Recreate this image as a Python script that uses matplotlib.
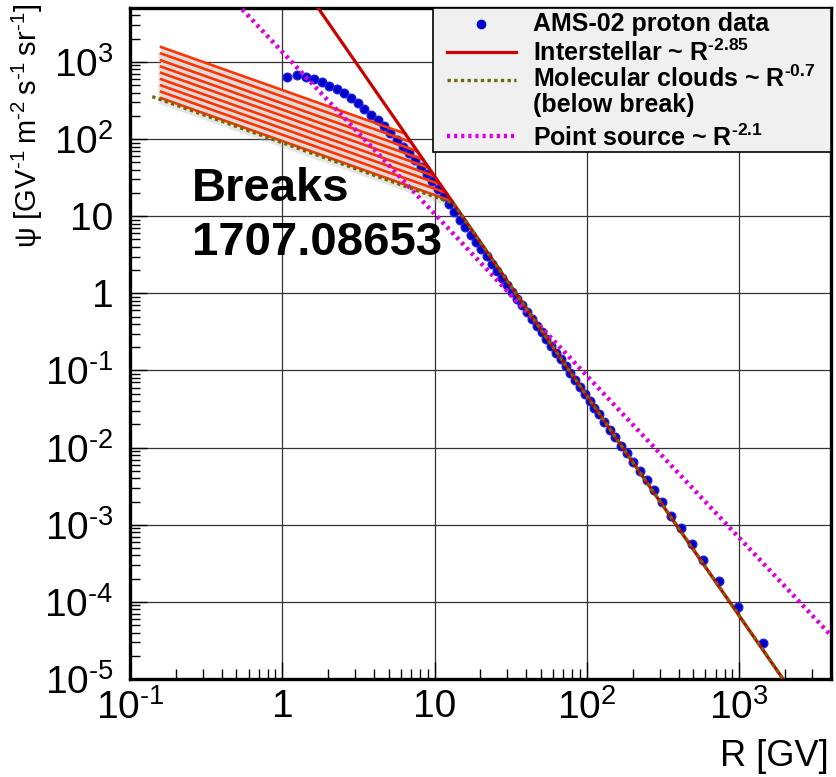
import matplotlib.pyplot as plt
import numpy as np
from matplotlib.ticker import LogLocator, NullFormatter
from matplotlib.lines import Line2D
from matplotlib.patches import Rectangle
import matplotlib.patheffects as pe

plt.rcParams['font.family'] = ['Liberation Sans', 'DejaVu Sans']
plt.rcParams['mathtext.fontset'] = 'custom'
plt.rcParams['mathtext.rm'] = 'Liberation Sans'
plt.rcParams['mathtext.bf'] = 'Liberation Sans:bold'
plt.rcParams['mathtext.default'] = 'rm'

# AMS-02 proton flux
rigidity = [1.08, 1.25, 1.42, 1.61, 1.81, 2.03, 2.27, 2.53, 2.82, 3.13, 3.46, 3.83,
            4.22, 4.65, 5.12, 5.63, 6.18, 6.77, 7.42, 8.11, 8.86, 9.67, 10.5, 11.5,
            12.5, 13.5, 14.7, 15.9, 17.3, 18.7, 20.3, 21.9, 23.7, 25.7, 27.7, 29.9,
            32.3, 34.8, 37.5, 40.4, 43.5, 46.8, 50.3, 54.1, 58.2, 62.5, 67.2, 72.3,
            77.6, 83.4, 89.7, 96.4, 104, 112, 120, 130, 141, 153, 167, 183, 201, 222,
            246, 275, 310, 355, 414, 487, 582, 732, 975, 1432]
flux = [634, 670, 646, 597, 551, 493, 443, 393, 344, 291, 246, 207,
        175, 149, 121, 97, 78, 65, 54, 43, 35, 28.3, 22.8, 18.0,
        14.5, 11.5, 9.0, 7.28, 5.78, 4.62, 3.72, 3.03, 2.40, 1.94, 1.585, 1.285,
        1.045, 0.851, 0.698, 0.573, 0.470, 0.380, 0.312, 0.2547, 0.209, 0.170, 0.139, 0.1127,
        0.0918, 0.0750, 0.0608, 0.0497, 0.0400, 0.0324, 0.0269, 0.0214, 0.0170, 0.0136, 0.01057,
        0.00851, 0.00649, 0.00498,
        0.00379, 0.00280, 0.00197, 0.00131, 0.000906, 0.000569, 0.000344, 0.000187, 8.6e-5, 2.92e-5]

# power-law models: flux at 10 GV and spectral index
is_norm10, is_index = 33.0, -2.85        # interstellar
ps_norm10, ps_index = 10.7, -2.1         # point source
mc_index, mc_break, mc_start = -0.7, 13.3, 0.14   # molecular clouds
band_breaks = [6.4, 7.0, 7.7, 8.4, 9.15, 10.0, 10.9, 11.9, 13.0]
band_start = 0.16

xticks = [0.1, 1, 10, 100, 1000]
xticklabels = ['10$^{‐1}$', '1', '10', '10$^{2}$', '10$^{3}$']
yticks = [1e-5, 1e-4, 1e-3, 1e-2, 1e-1, 1, 10, 100, 1000]
yticklabels = ['10$^{‐5}$', '10$^{‐4}$', '10$^{‐3}$', '10$^{‐2}$', '10$^{‐1}$',
               '1', '10', '10$^{2}$', '10$^{3}$']


def interstellar(r):
    return is_norm10 * (np.asarray(r) / 10.0) ** is_index


fig = plt.figure(figsize=(8.37, 7.77), dpi=100)
ax = fig.add_axes([130 / 837, 1 - 679 / 777, 701 / 837, 671 / 777])
ax.set_xscale('log')
ax.set_yscale('log')
ax.set_xlim(0.1, 4000)
ax.set_ylim(1e-5, 5e3)

# shaded band of break rigidities
top = np.geomspace(band_start, band_breaks[0], 50)
mid = np.geomspace(band_breaks[0], band_breaks[-1], 50)
bot = np.geomspace(band_start, band_breaks[-1], 50)
poly_x = np.concatenate([top, mid, bot[::-1]])
poly_y = np.concatenate([interstellar(band_breaks[0]) * (top / band_breaks[0]) ** mc_index,
                         interstellar(mid),
                         (interstellar(band_breaks[-1]) * (bot / band_breaks[-1]) ** mc_index)[::-1]])
ax.fill(poly_x, poly_y, color='#dcdcdc', lw=0, zorder=2,
        path_effects=[pe.SimplePatchShadow(offset=(-2, -4), shadow_rgbFace='#aaaaaa', alpha=0.3),
                      pe.Normal()])

ax.plot(rigidity, flux, 'o', color='#0000cc', ms=6.2, mec='#2020dd', zorder=3)

for b in band_breaks:
    r = np.geomspace(band_start, b, 50)
    ax.plot(r, interstellar(b) * (r / b) ** mc_index, color='#ff3300', lw=1.9, zorder=4)

r_all = np.geomspace(0.3, 4000, 200)
ax.plot(r_all, ps_norm10 * (r_all / 10.0) ** ps_index, color='#dd00dd', lw=3.2,
        ls=(0, (0.7, 0.9)), zorder=4)
ax.plot(r_all, interstellar(r_all), color='#cc0000', lw=2.3, zorder=5)

r_mc = np.geomspace(mc_start, 4000, 300)
mc = np.where(r_mc < mc_break,
              interstellar(mc_break) * (r_mc / mc_break) ** mc_index,
              interstellar(r_mc))
ax.plot(r_mc, mc, color='#6b6b00', lw=2.4, ls=(0, (1, 1)), zorder=6)

# axes styling
ax.set_xticks(xticks)
ax.set_xticklabels(xticklabels)
ax.set_yticks(yticks)
ax.set_yticklabels(yticklabels)
ax.xaxis.set_minor_locator(LogLocator(base=10, subs=range(2, 10), numticks=30))
ax.yaxis.set_minor_locator(LogLocator(base=10, subs=range(2, 10), numticks=30))
ax.xaxis.set_minor_formatter(NullFormatter())
ax.yaxis.set_minor_formatter(NullFormatter())
ax.tick_params(which='major', direction='in', length=12, width=1, labelsize=28)
ax.tick_params(which='minor', direction='in', length=7, width=1)
ax.tick_params(axis='x', which='major', pad=7)
ax.tick_params(axis='y', which='major', pad=12)
ax.grid(True, which='major', color='#333333', lw=0.9)
for s in ax.spines.values():
    s.set_linewidth(2.4)

fig.text(27 / 837, 1 - 4 / 777, 'ψ [GV$^{‐1}$\u2009m$^{‐2}$\u2009s$^{‐1}$\u2009sr$^{‐1}$]',
         rotation=90, ha='center', va='top', fontsize=21)
fig.text(829 / 837, 1 - 756 / 777, 'R [GV]', ha='right', va='center', fontsize=26)

fig.text(192 / 837, 1 - 167 / 777, 'Breaks\n1707.08653', ha='left', va='top',
         fontsize=34, fontweight='bold', linespacing=1.3)

# legend box drawn by hand
leg_x0, leg_x1, leg_y0, leg_y1 = 433, 831, 8, 152
tf = fig.transFigure
fig.patches.append(Rectangle((leg_x0 / 837, 1 - leg_y1 / 777), (leg_x1 - leg_x0) / 837,
                             (leg_y1 - leg_y0) / 777, transform=tf, facecolor='#f0f0f0',
                             edgecolor='black', lw=1.2, zorder=10))
h0, h1 = 447 / 837, 516 / 837
fig.lines.append(Line2D([(h0 + h1) / 2], [1 - 24 / 777], transform=tf, marker='o',
                        color='#0000cc', ms=6, ls='none', zorder=11))
fig.lines.append(Line2D([h0, h1], [1 - 52 / 777] * 2, transform=tf, color='#cc0000',
                        lw=2.3, zorder=11))
fig.lines.append(Line2D([h0, h1], [1 - 80 / 777] * 2, transform=tf, color='#6b6b00',
                        lw=2.4, ls=(0, (1, 1)), zorder=11))
fig.lines.append(Line2D([h0, h1], [1 - 136 / 777] * 2, transform=tf, color='#dd00dd',
                        lw=3.2, ls=(0, (0.7, 0.9)), zorder=11))
tx = 533 / 837
labels = [(24, 'AMS-02 proton data'),
          (53, 'Interstellar ~ R$^{\\mathbf{‐2.85}}$'),
          (79, 'Molecular clouds ~ R$^{\\mathbf{‐0.7}}$'),
          (105, '(below break)'),
          (138, 'Point source ~ R$^{\\mathbf{‐2.1}}$')]
for yy, txt in labels:
    fig.text(tx, 1 - yy / 777, txt, ha='left', va='center', fontsize=18,
             fontweight='bold', zorder=12)

fig.savefig('out.png', dpi=100)
